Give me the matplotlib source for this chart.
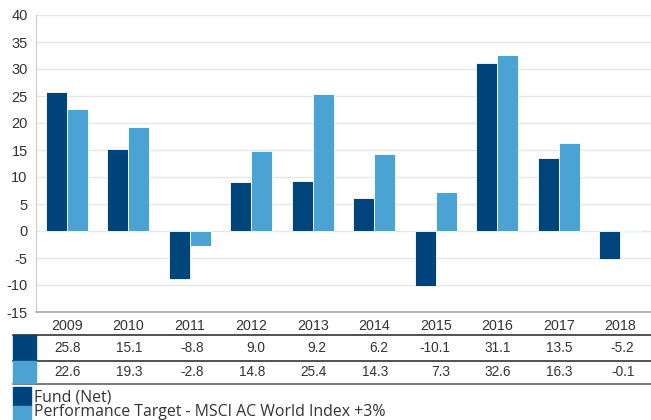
import numpy as np
import matplotlib.pyplot as plt
from matplotlib.patches import Rectangle
from matplotlib.lines import Line2D
import matplotlib.transforms as mtransforms

plt.rcParams['axes.unicode_minus'] = False

# Data
years = ['2009', '2010', '2011', '2012', '2013', '2014', '2015', '2016', '2017', '2018']
fund = [25.8, 15.1, -8.8, 9.0, 9.2, 6.2, -10.1, 31.1, 13.5, -5.2]
target = [22.6, 19.3, -2.8, 14.8, 25.4, 14.3, 7.3, 32.6, 16.3, -0.1]
series_names = ['Fund (Net)', 'Performance Target - MSCI AC World Index +3%']

dark = '#00447c'
light = '#4ba3d3'
txt = '#333333'

W, H = 651, 420
fig = plt.figure(figsize=(W / 100, H / 100), dpi=100)

def fx(px):
    return px / W

def fy(py):
    return 1 - py / H

ax = fig.add_axes([fx(36), fy(312), 1 - fx(36), fy(15) - fy(312)])

x = np.arange(len(years))
bw = 0.34
ax.bar(x - bw / 2, fund, bw, color=dark, edgecolor='white', linewidth=0.6, zorder=3)
ax.bar(x + bw / 2, target, bw, color=light, edgecolor='white', linewidth=0.6, zorder=3)

ax.set_xlim(-0.5, len(years) - 0.5)
ax.set_ylim(-15, 40)
ax.set_yticks(np.arange(-15, 41, 5))
ax.yaxis.grid(True, color='#e6e6e6', linewidth=1, zorder=0)
ax.tick_params(axis='y', length=0, pad=6, labelsize=10.5, labelcolor=txt)
for lab in ax.get_yticklabels():
    lab.set_family('Liberation Sans')

ax.set_xticks(x)
ax.set_xticklabels(years, fontsize=10.3, color=txt, family='Liberation Sans')
ax.tick_params(axis='x', length=0, pad=5)

for s in ['top', 'right']:
    ax.spines[s].set_visible(False)
ax.spines['left'].set_color('#cccccc')
ax.spines['bottom'].set_color('#aaaaaa')
ax.spines['bottom'].set_linewidth(1.2)

# Table below the chart
trans = mtransforms.blended_transform_factory(ax.transData, fig.transFigure)
offset = mtransforms.ScaledTranslation(14 / 100, 0, fig.dpi_scale_trans)
rows = [(fund, dark, 335, 360), (target, light, 361, 383)]
for vals, col, top, bot in rows:
    fig.patches.append(Rectangle((fx(13), fy(bot)), fx(36) - fx(13), fy(top) - fy(bot),
                                 transform=fig.transFigure, color=col, zorder=2))
    for i, v in enumerate(vals):
        fig.text(i, fy((top + bot) / 2), f'{v:.1f}', transform=trans + offset,
                 ha='right', va='center', fontsize=9.8, color=txt, family='Liberation Sans')

for py, c in [(335, '#222222'), (360.5, '#222222'), (383.5, '#555555')]:
    fig.lines.append(Line2D([fx(13), 1], [fy(py), fy(py)], transform=fig.transFigure,
                            color=c, linewidth=1.1))

# Legend
for (name, col), top, ty in zip(zip(series_names, [dark, light]), [387, 406], [397, 412]):
    fig.patches.append(Rectangle((fx(13), fy(top + 19)), fx(31) - fx(13), fy(top) - fy(top + 19),
                                 transform=fig.transFigure, color=col))
    fig.text(fx(34), fy(ty), name, ha='left', va='center', fontsize=11.4,
             color=txt, family='Open Sans')

fig.savefig('out.png', dpi=100)
